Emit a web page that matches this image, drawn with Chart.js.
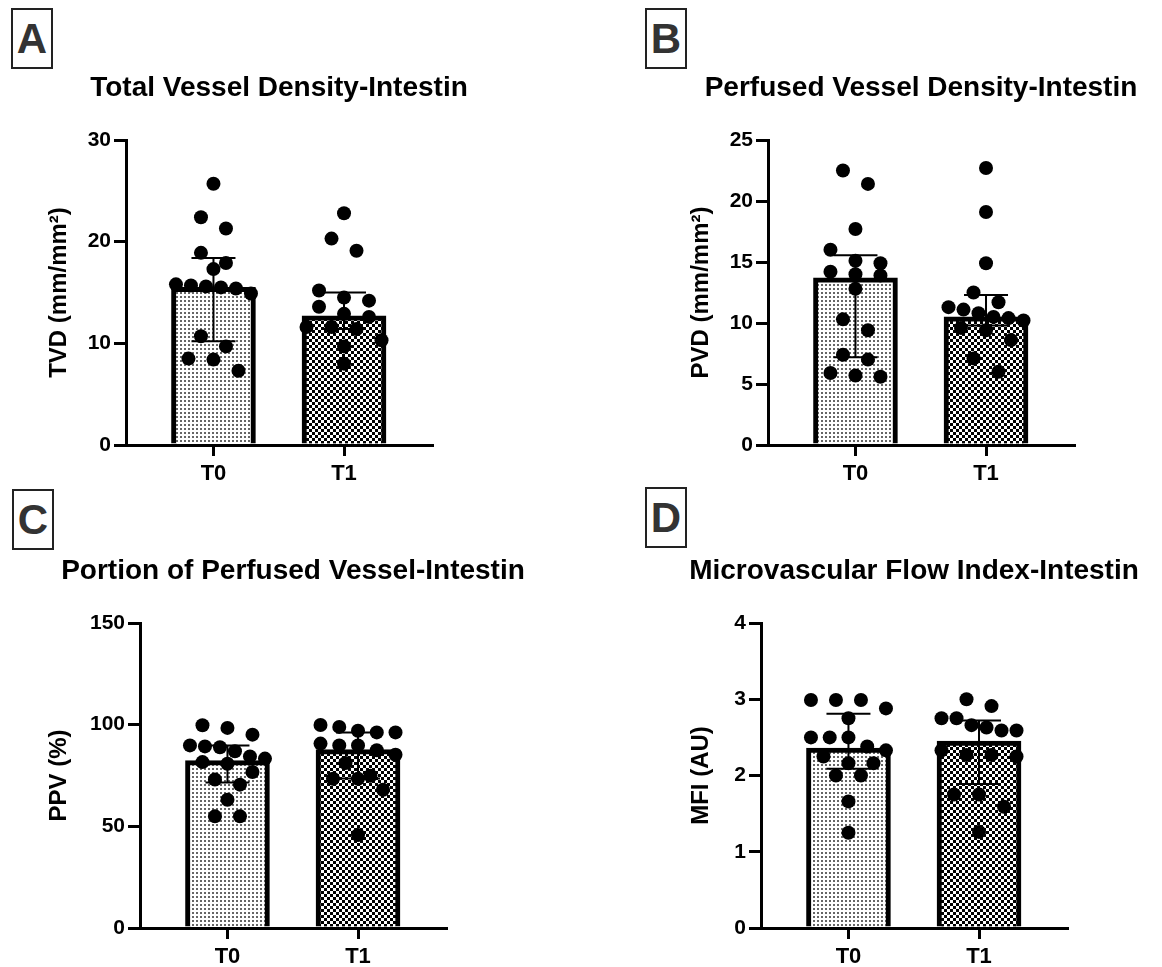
<!DOCTYPE html>
<html>
<head>
<meta charset="utf-8">
<script src="https://cdn.jsdelivr.net/npm/chart.js@4.4.1/dist/chart.umd.min.js"></script>
<style>
  body { margin: 0; background: #fff; width: 1162px; height: 967px; overflow: hidden; position: relative; font-family: 'Liberation Sans', Arial, sans-serif; }
  canvas { position: absolute; }
  .tag { position: absolute; width: 38px; height: 57px; border: 2px solid #222; font-weight: bold; font-size: 42px; color: #333; display: flex; align-items: center; justify-content: center; }
</style>
</head>
<body>
<div class="tag" style="left:11px;top:8px">A</div>
<div class="tag" style="left:645px;top:8px">B</div>
<div class="tag" style="left:12px;top:489px">C</div>
<div class="tag" style="left:645px;top:487px">D</div>

<canvas id="cA" width="581" height="500" style="left:0px;top:0px"></canvas>
<canvas id="cB" width="581" height="500" style="left:581px;top:0px"></canvas>
<canvas id="cC" width="581" height="487" style="left:0px;top:480px"></canvas>
<canvas id="cD" width="581" height="487" style="left:581px;top:480px"></canvas>

<script>
//Dados
const grupos = ['T0', 'T1']

//A - TVD
const tvdT0 = [25.7, 22.4, 21.3, 18.9, 17.9, 17.3, 15.8, 15.7, 15.6, 15.5, 15.4, 14.9, 10.7, 9.7, 8.5, 8.4, 7.3]
const tvdT1 = [22.8, 20.3, 19.1, 15.2, 14.5, 14.2, 13.6, 12.9, 12.6, 11.6, 11.6, 11.4, 10.3, 9.7, 8.0]
const tvdMediana = [15.5, 12.7]
const tvdQ1 = [10.2, 11.4]
const tvdQ3 = [18.4, 15.0]

//B - PVD
const pvdT0 = [22.5, 21.4, 17.7, 16.0, 15.1, 14.9, 14.2, 14.0, 13.9, 12.8, 10.3, 9.4, 7.4, 7.0, 5.9, 5.7, 5.6]
const pvdT1 = [22.7, 19.1, 14.9, 12.5, 11.7, 11.3, 11.1, 10.8, 10.5, 10.4, 10.2, 9.6, 9.4, 8.6, 7.1, 6.0]
const pvdMediana = [13.7, 10.5]
const pvdQ1 = [7.2, 9.8]
const pvdQ3 = [15.55, 12.3]

//C - PPV
const ppvT0 = [99.7, 98.4, 95.1, 89.8, 89.3, 88.9, 86.9, 84.4, 83.3, 81.6, 80.8, 76.7, 73.0, 70.5, 63.1, 54.9, 54.9]
const ppvT1 = [99.8, 98.9, 97.0, 96.2, 96.2, 90.7, 89.8, 89.8, 87.4, 85.2, 81.1, 74.9, 73.4, 73.4, 68.0, 45.7]
const ppvMediana = [82.3, 87.7]
const ppvQ1 = [71.6, 73.5]
const ppvQ3 = [89.7, 96.2]

//D - MFI
const mfiT0 = [2.99, 2.99, 2.99, 2.88, 2.75, 2.50, 2.50, 2.50, 2.38, 2.33, 2.25, 2.16, 2.16, 2.00, 2.00, 1.66, 1.25]
const mfiT1 = [3.00, 2.91, 2.75, 2.75, 2.66, 2.63, 2.59, 2.59, 2.33, 2.27, 2.27, 2.25, 1.75, 1.75, 1.59, 1.26]
const mfiMediana = [2.36, 2.45]
const mfiQ1 = [2.09, 1.89]
const mfiQ3 = [2.81, 2.72]


//Configuração geral
const FONTE = "'Liberation Sans', Arial, sans-serif"
Chart.defaults.font.family = FONTE
Chart.defaults.color = '#000'

const X_MIN = -0.67
const X_MAX = 1.674
const PLOT_W = 306
const PLOT_H = 305
const RAIO = 7

//Padrões de preenchimento das barras
function criarPadrao(tam, desenho) {
    const c = document.createElement('canvas')
    c.width = tam
    c.height = tam
    const g = c.getContext('2d')
    g.fillStyle = '#fff'
    g.fillRect(0, 0, tam, tam)
    g.fillStyle = '#000'
    desenho(g)
    return g.createPattern(c, 'repeat')
}
const pontilhado = criarPadrao(4, g => { g.globalAlpha = 0.6; g.fillRect(0, 0, 2, 2) })
const xadrez = criarPadrao(6, g => { g.fillRect(0, 0, 3, 3); g.fillRect(3, 3, 3, 3) })

//Espalhar os pontos em linhas, como no GraphPad
function espalhar(valores, grupo, yMax) {
    const pxPorUnidade = PLOT_H / yMax
    const pxPorX = PLOT_W / (X_MAX - X_MIN)
    const ordenados = [...valores].sort((a, b) => b - a)
    const saida = []
    let k = 0
    while (k < ordenados.length) {
        const linha = [ordenados[k]]
        let j = k + 1
        while (j < ordenados.length && (ordenados[k] - ordenados[j]) * pxPorUnidade < RAIO * 2) {
            linha.push(ordenados[j])
            j++
        }
        const passo = linha.length > 1 ? Math.min(25, 75 / (linha.length - 1)) : 0
        linha.forEach((v, n) => {
            const dx = (n - (linha.length - 1) / 2) * passo
            saida.push({ x: grupo + dx / pxPorX, y: v })
        })
        k = j
    }
    return saida
}

//Barras de erro (intervalo interquartil)
const bigodes = {
    id: 'bigodes',
    afterDatasetDraw(chart, args, opts) {
        if (args.index !== 0) return
        const { ctx, scales: { x, y } } = chart
        ctx.save()
        ctx.strokeStyle = '#000'
        ctx.lineWidth = 2
        opts.baixo.forEach((lo, i) => {
            const px = x.getPixelForValue(i)
            const yLo = y.getPixelForValue(lo)
            const yHi = y.getPixelForValue(opts.alto[i])
            ctx.beginPath()
            ctx.moveTo(px, yLo); ctx.lineTo(px, yHi)
            ctx.moveTo(px - 22, yLo); ctx.lineTo(px + 22, yLo)
            ctx.moveTo(px - 22, yHi); ctx.lineTo(px + 22, yHi)
            ctx.stroke()
        })
        ctx.restore()
    }
}

//Título centrado sobre a área do gráfico
const tituloPainel = {
    id: 'tituloPainel',
    afterDraw(chart, args, opts) {
        const { ctx, chartArea } = chart
        ctx.save()
        ctx.font = 'bold 28px ' + FONTE
        ctx.fillStyle = '#000'
        ctx.textAlign = 'center'
        ctx.textBaseline = 'middle'
        ctx.fillText(opts.texto, (chartArea.left + chartArea.right) / 2, opts.y)
        ctx.restore()
    }
}

const paineis = [
    { id: 'cA', titulo: 'Total Vessel Density-Intestin', eixoY: 'TVD (mm/mm²)', t0: tvdT0, t1: tvdT1, med: tvdMediana, q1: tvdQ1, q3: tvdQ3, yMax: 30, passo: 10,
      cl: 0, ct: 0, cw: 581, ch: 500, esq: 126, dir: 432, topo: 140, base: 445, tituloY: 88, eixoX: 59 },
    { id: 'cB', titulo: 'Perfused Vessel Density-Intestin', eixoY: 'PVD (mm/mm²)', t0: pvdT0, t1: pvdT1, med: pvdMediana, q1: pvdQ1, q3: pvdQ3, yMax: 25, passo: 5,
      cl: 581, ct: 0, cw: 581, ch: 500, esq: 768, dir: 1074, topo: 140, base: 445, tituloY: 88, eixoX: 701 },
    { id: 'cC', titulo: 'Portion of Perfused Vessel-Intestin', eixoY: 'PPV (%)', t0: ppvT0, t1: ppvT1, med: ppvMediana, q1: ppvQ1, q3: ppvQ3, yMax: 150, passo: 50,
      cl: 0, ct: 480, cw: 581, ch: 487, esq: 140, dir: 446, topo: 623, base: 928, tituloY: 571, eixoX: 59 },
    { id: 'cD', titulo: 'Microvascular Flow Index-Intestin', eixoY: 'MFI (AU)', t0: mfiT0, t1: mfiT1, med: mfiMediana, q1: mfiQ1, q3: mfiQ3, yMax: 4, passo: 1,
      cl: 581, ct: 480, cw: 581, ch: 487, esq: 761, dir: 1067, topo: 623, base: 928, tituloY: 571, eixoX: 701 }
]

paineis.forEach(p => {
    const pontos = espalhar(p.t0, 0, p.yMax).concat(espalhar(p.t1, 1, p.yMax))
    new Chart(document.getElementById(p.id), {
        type: 'bar',
        data: {
            datasets: [{
                type: 'bar',
                data: p.med.map((m, i) => ({ x: i, y: m })),
                backgroundColor: [pontilhado, xadrez],
                borderColor: '#000',
                borderWidth: 5,
                barThickness: 84,
                order: 2
            }, {
                type: 'scatter',
                data: pontos,
                backgroundColor: '#000',
                borderWidth: 0,
                pointRadius: RAIO,
                pointHoverRadius: RAIO,
                clip: false,
                order: 1
            }]
        },
        plugins: [bigodes, tituloPainel],
        options: {
            responsive: false,
            animation: false,
            devicePixelRatio: 1,
            layout: { padding: { left: 0, top: p.topo - p.ct, bottom: 0, right: p.cl + p.cw - p.dir } },
            plugins: {
                legend: { display: false },
                tooltip: { enabled: false },
                title: { display: false },
                bigodes: { baixo: p.q1, alto: p.q3 },
                tituloPainel: { texto: p.titulo, y: p.tituloY - p.ct }
            },
            scales: {
                x: {
                    type: 'linear',
                    min: X_MIN,
                    max: X_MAX,
                    offset: false,
                    grid: { drawOnChartArea: false, offset: false, color: '#000', lineWidth: 3, tickLength: 11 },
                    border: { color: '#000', width: 3 },
                    ticks: { font: { size: 22, weight: 'bold' }, padding: 5, autoSkip: false, maxRotation: 0, callback: v => grupos[v] },
                    afterBuildTicks: s => { s.ticks = grupos.map((g, i) => ({ value: i })) },
                    afterFit: s => { s.height = p.ct + p.ch - p.base }
                },
                y: {
                    min: 0,
                    max: p.yMax,
                    ticks: { stepSize: p.passo, font: { size: 21, weight: 'bold' }, padding: 3 },
                    grid: { drawOnChartArea: false, color: '#000', lineWidth: 3, tickLength: 12 },
                    border: { color: '#000', width: 3 },
                    title: { display: true, text: p.eixoY, color: '#000', font: { size: 24, weight: 'bold' }, padding: { top: p.eixoX - p.cl - 14.4, bottom: 0 } },
                    afterFit: s => { s.width = p.esq - p.cl }
                }
            }
        }
    })
})
</script>
</body>
</html>
